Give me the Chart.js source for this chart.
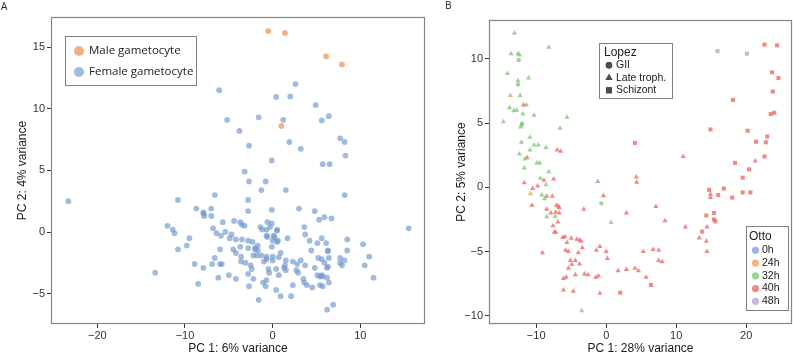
<!DOCTYPE html>
<html><head><meta charset="utf-8">
<script src="https://cdn.jsdelivr.net/npm/chart.js@4/dist/chart.umd.min.js"></script>
<style>
html,body{margin:0;padding:0;background:#fff;}
#wrap{position:relative;width:793px;height:355px;overflow:hidden;background:#fff;}
#a{position:absolute;left:0;top:0;}
#b{position:absolute;left:430px;top:0;}
</style></head><body>
<div id="wrap">
<canvas id="a" width="430" height="355"></canvas>
<canvas id="b" width="363" height="355"></canvas>
</div>
<script>
// ---------- Panel A data ----------
const legendA = ['Male gametocyte', 'Female gametocyte'];
const xTicksA = [-20, -10, 0, 10];
const yTicksA = [-5, 0, 5, 10, 15];
const malePts = [[-0.5,16.3],[1.4,16.15],[6.1,14.25],[7.9,13.6],[1.0,8.6]];
const femalePts = [
[-6.1,11.5],[2.6,12.0],[0.4,10.95],[2.0,11.0],[4.9,10.3],[-5.2,9.1],[-1.6,9.3],[1.2,9.1],[5.6,9.05],[6.4,9.4],
[-3.8,8.2],[-2.7,7.0],[1.9,7.3],[3.2,6.75],[7.7,7.6],[8.2,7.3],[8.3,6.2],[-0.1,5.8],[5.7,5.5],[6.5,5.5],
[-3.2,4.9],[-2.7,4.1],[-0.8,4.1],
[-23.3,2.5],[-10.8,2.6],[-6.6,3.0],[-1.3,3.4],[1.5,3.4],[8.2,3.0],[-2.8,2.6],[-8.7,1.9],[-7.0,1.9],[-7.9,1.6],
[-7.9,1.5],[-7.8,1.3],[-7.0,1.3],[-2.8,1.7],[-0.1,1.8],[3.0,1.9],[4.8,1.7],[5.9,1.2],[5.3,1.0],[6.7,1.1],
[-12.0,0.5],[-11.4,0.2],[-11.2,-0.1],[-9.5,-0.5],[-9.8,-1.1],[-10.8,-1.4],[-5.7,0.8],[-6.8,0.3],[-6.4,-0.1],
[-5.9,-0.3],[-5.4,0.0],[-4.7,-0.2],[-4.9,-0.5],[-4.4,0.9],[-3.7,0.8],[-3.5,0.6],[-3.2,0.5],[-4.2,-0.6],
[-3.5,-0.6],[-2.8,-0.7],[-2.3,-0.8],[-1.7,-1.1],[-2.0,-1.3],[-2.0,-1.4],[-1.7,-1.5],[-2.8,-1.3],[-3.7,-1.2],
[-4.5,-1.4],[-6.0,-1.4],[-1.4,0.4],[-1.2,0.2],[-0.7,0.2],[-0.6,0.8],[-0.1,0.7],[0.5,0.2],[0.5,0.1],[-0.7,-0.3],
[0.0,-0.7],[0.6,-0.7],[0.2,-0.4],[1.7,-0.5],[3.6,0.4],[3.7,-0.2],[4.2,-0.7],[5.1,-0.9],[5.6,-0.5],[6.1,-0.9],
[8.5,-0.6],[10.3,-1.0],[6.3,-1.5],[6.3,-1.55],[8.5,-1.5],[4.4,-1.5],[-0.1,-1.2],[0.9,-1.7],[15.5,0.3],
[-0.3,0.4],[-0.6,-0.4],[0.1,-0.3],[0.5,-0.8],[-4.2,-1.7],[-2.2,-1.9],[0.7,-2.05],[-0.7,-2.2],
[-0.7,-2.0],[0.0,-2.0],[0.0,-2.3],[-1.3,-1.9],[-1.8,-1.9],[-1.0,-2.4],[-3.6,-2.0],[-3.6,-2.4],[-3.1,-2.5],
[-6.6,-2.1],[-6.9,-2.6],[-6.0,-2.6],[-5.8,-2.6],[-8.9,-2.6],[-7.9,-2.9],[-5.0,-3.5],[-6.2,-3.7],[-4.2,-3.8],
[-8.5,-4.2],[-13.4,-3.3],[-2.5,-2.7],[-2.4,-3.0],[-2.8,-3.4],[-2.2,-3.8],[-2.7,-4.4],[-0.5,-3.0],[-0.4,-3.3],
[-0.7,-3.9],[-1.1,-4.1],[-0.8,-4.4],[0.4,-3.0],[0.7,-3.5],[1.5,-2.3],[1.4,-2.7],[1.3,-2.9],[1.5,-3.1],
[2.3,-2.4],[2.8,-2.6],[3.2,-2.3],[2.7,-3.1],[2.9,-3.3],[3.7,-2.7],[4.8,-2.9],[3.5,-3.8],[3.6,-4.1],[3.9,-4.3],
[4.5,-4.5],[5.1,-3.5],[5.4,-3.6],[5.6,-3.5],[5.7,-3.6],[5.2,-2.1],[5.6,-2.2],[5.9,-2.5],[6.3,-2.8],[6.2,-2.9],
[6.4,-2.1],[6.2,-3.7],[6.4,-4.1],[5.4,-4.3],[5.7,-4.4],[7.7,-2.1],[8.2,-2.3],[7.7,-2.5],[7.9,-2.7],[11.0,-2.0],
[10.5,-2.7],[11.5,-3.7],[2.3,-4.3],[0.9,-5.2],[0.4,-4.7],[2.1,-5.2],[-1.6,-5.5],[6.9,-5.9],[6.2,-6.3]
];

// ---------- Panel B data ----------
const lopezTitle = 'Lopez';
const lopezLabels = ['GII', 'Late troph.', 'Schizont'];
const ottoTitle = 'Otto';
const ottoLabels = ['0h', '24h', '32h', '40h', '48h'];
const xTicksB = [-10, 0, 10, 20];
const yTicksB = [-10, -5, 0, 5, 10];
const otto0h_late = [[-1.2,0.45]];
const otto24h_late = [[-13.7,7.15],[-10.8,-0.5]];
const otto32h_late = [
[-13.1,12.0],[-8.2,10.9],[-13.6,10.4],[-12.6,10.4],[-12.4,10.3],[-14.1,8.85],[-11.1,8.5],[-12.6,8.3],
[-12.3,7.15],[-11.4,6.4],[-13.8,6.2],[-13.2,5.95],[-12.8,6.0],[-11.9,5.7],[-10.3,5.6],[-5.6,5.45],[-6.6,4.6],
[-12.1,4.85],[-12.2,4.7],[-12.1,3.5],[-10.9,3.9],[-10.3,3.3],[-9.7,3.3],[-8.6,3.1],[-10.9,2.9],[-12.4,2.6],
[-11.6,2.2],[-9.9,1.9],[-9.5,1.9],[-11.7,1.5],[-8.2,1.2],[-9.4,0.7],[-8.6,0.2],[-9.2,-0.6],[-8.8,-0.9],
[-8.5,-2.3],[-7.3,-2.25]
];
const otto32h_gii = [[-12.5,9.9],[-12.6,8.0],[-12.0,4.95],[-0.7,-1.25]];
const otto40h_late = [
[-11.8,6.4],[-7.0,2.9],[-6.5,2.8],[-11.3,2.3],[-8.9,0.55],[-11.7,0.35],[-7.5,0.65],[-9.8,0.1],[-10.5,-0.1],
[4.3,0.8],[4.35,0.4],[-8.5,-0.7],[-7.7,-0.7],[-10.6,-1.4],[-0.4,-0.65],[-7.1,-1.4],[-6.8,-1.5],[-6.7,-1.6],
[-8.5,-1.7],[-7.9,-2.0],[-7.2,-1.95],[-6.7,-2.0],[-3.2,-1.7],[-6.9,-2.7],[2.9,-2.0],[-7.6,-3.0],[-7.4,-3.5],
[-7.2,-3.5],[-6.2,-3.9],[-5.9,-3.85],[-5.0,-3.97],[-4.2,-4.05],[-3.8,-4.1],[-3.6,-4.2],[-5.6,-4.3],[-3.4,-4.7],
[-5.8,-4.9],[-5.4,-5.0],[-4.0,-5.1],[-1.4,-4.9],[-0.9,-4.6],[0.0,-5.0],[0.16,-5.55],[-9.1,-5.1],[-5.1,-5.7],
[-4.4,-5.7],[-4.9,-6.0],[-3.8,-5.97],[-5.4,-6.3],[-3.1,-6.75],[-2.6,-6.8],[-4.4,-6.8],[-1.5,-7.0],[-1.1,-6.9],
[-5.7,-7.0],[-6.1,-7.1],[1.7,-6.5],[2.9,-6.4],[4.1,-6.3],[4.6,-6.5],[-6.1,-8.0],[-4.7,-8.1],[-0.9,-8.25],
[5.3,-5.0],[7.1,-1.5],[8.4,-2.6],[11.3,-3.1],[6.7,-4.85],[7.5,-4.9],[7.5,-5.7],[8.0,-5.8],[5.7,-7.0],
[14.9,-0.55],[14.9,-0.8],[14.4,-3.1],[13.3,-3.95],[14.3,-4.2],[14.4,-5.0],[11.0,2.4],[21.3,2.05]
];
const otto40h_schizont = [
[2.0,-8.2],[6.4,-7.6],[14.7,-0.2],[16.0,-0.6],[16.8,-0.1],[18.0,-0.8],[19.5,-0.4],[20.6,-0.4],[14.3,-2.2],
[15.4,-2.0],[15.4,-2.5],[15.6,-2.65],[13.7,-3.45],[22.6,11.1],[24.4,11.05],[23.7,8.95],[24.6,8.5],[23.8,7.45],
[18.1,6.8],[23.5,5.7],[24.0,5.8],[14.9,4.5],[20.2,4.4],[21.4,3.55],[22.8,3.5],[23.0,3.95],[4.1,3.45],[22.6,2.4],
[18.4,1.9],[20.4,1.4],[19.5,0.75]
];
const otto48h_late = [[-14.7,5.1],[0.7,-2.75],[-3.5,-9.6]];
const otto48h_schizont = [[15.9,10.6],[20.1,10.4]];

// ---------- styles ----------
const FONT = '"Liberation Sans", Arial, sans-serif';
const FONT_A_LEG = '"Open Sans", sans-serif';
const TXT = '#1a1a1a';
const cFemale = 'rgba(110,150,205,0.65)';
const cMale = 'rgba(240,150,90,0.75)';
const ottoColors = ['rgba(130,165,215,0.8)','rgba(245,160,100,0.8)','rgba(130,200,120,0.8)','rgba(235,110,105,0.8)','rgba(185,165,210,0.8)'];
const toXY = arr => arr.map(([x, y]) => ({x, y}));
const minusFmt = v => (v < 0 ? '\u2212' + Math.abs(v) : String(v));

const frame = {
  id: 'frame',
  afterDatasetsDraw(chart) {
    const {ctx, chartArea: a} = chart;
    ctx.save();
    ctx.strokeStyle = '#858585';
    ctx.lineWidth = 1.2;
    ctx.strokeRect(a.left + 0.5, a.top + 0.5, a.right - a.left - 1, a.bottom - a.top - 1);
    ctx.restore();
  }
};

function axisCfg(ticks, min, max, isX, title, titlePad, fixed) {
  return {
    type: 'linear', min, max,
    afterFit: s => { if (isX) s.height = fixed; else s.width = fixed; },
    afterBuildTicks: s => { s.ticks = ticks.map(v => ({value: v})); },
    grid: {drawOnChartArea: false, drawTicks: true, tickLength: 4, color: '#333', lineWidth: 1},
    border: {display: false},
    ticks: {font: {family: FONT, size: 11}, color: '#333', padding: isX ? 1 : 2, maxRotation: 0, autoSkip: false,
            callback: v => minusFmt(v)},
    title: {display: true, text: title, font: {family: FONT, size: 12, lineHeight: 1}, color: TXT,
            padding: isX ? {top: 0, bottom: titlePad} : {top: titlePad, bottom: 0}}
  };
}

// ---------- Chart A ----------
const legendPluginA = {
  id: 'legA',
  afterDraw(chart) {
    const ctx = chart.ctx;
    ctx.save();
    ctx.fillStyle = TXT;
    ctx.font = '10px ' + FONT_A_LEG;
    ctx.textBaseline = 'middle';
    ctx.fillText('A', 1, 7);
    ctx.fillStyle = '#fff';
    ctx.fillRect(65, 36, 131, 49);
    ctx.strokeStyle = '#808080'; ctx.lineWidth = 1;
    ctx.strokeRect(65.5, 36.5, 131, 49);
    const cols = [cMale, cFemale];
    legendA.forEach((lab, i) => {
      const y = 51 + i * 21;
      ctx.beginPath(); ctx.arc(79, y, 5, 0, Math.PI * 2);
      ctx.fillStyle = cols[i]; ctx.fill();
      ctx.fillStyle = TXT; ctx.font = '11.5px ' + FONT_A_LEG;
      ctx.fillText(lab, 89, y);
    });
    ctx.restore();
  }
};

new Chart(document.getElementById('a'), {
  type: 'scatter',
  data: {datasets: [
    {label: legendA[1], data: toXY(femalePts), backgroundColor: cFemale, borderWidth: 0, pointRadius: 2.9},
    {label: legendA[0], data: toXY(malePts), backgroundColor: cMale, borderWidth: 0, pointRadius: 2.9}
  ]},
  options: {
    responsive: false, animation: false, events: [],
    layout: {padding: {left: 0, top: 17, right: 5, bottom: 0}, autoPadding: false},
    plugins: {legend: {display: false}, tooltip: {enabled: false}},
    scales: {
      x: axisCfg(xTicksA, -25.28, 17.37, true, 'PC 1: 6% variance', 0, 31),
      y: axisCfg(yTicksA, -7.46, 17.44, false, 'PC 2: 4% variance', 17, 51)
    }
  },
  plugins: [frame, legendPluginA]
});

// ---------- Chart B ----------
const OX = 430;
const legendPluginB = {
  id: 'legB',
  afterDraw(chart) {
    const ctx = chart.ctx;
    ctx.save();
    ctx.textBaseline = 'middle';
    ctx.fillStyle = TXT;
    ctx.font = '10px ' + FONT_A_LEG;
    ctx.fillText('B', 445 - OX, 6);
    // Lopez legend
    ctx.fillStyle = '#fff'; ctx.fillRect(599 - OX, 43, 73, 55);
    ctx.strokeStyle = '#808080'; ctx.lineWidth = 1; ctx.strokeRect(599.5 - OX, 43.5, 73, 55);
    ctx.fillStyle = TXT; ctx.font = '12px ' + FONT;
    ctx.fillText(lopezTitle, 604 - OX, 52.5);
    const ly = [65.3, 78, 90.3];
    const styles = ['circle', 'triangle', 'rect'];
    lopezLabels.forEach((lab, i) => {
      Chart.helpers.drawPoint(ctx, {pointStyle: styles[i], radius: styles[i] === 'circle' ? 3.2 : (styles[i] === 'rect' ? 4.2 : 4), borderWidth: 0, rotation: 0},
        609 - OX, ly[i]);
      ctx.fillStyle = '#4d4d4d'; ctx.fill();
      ctx.fillStyle = TXT; ctx.font = '10.5px ' + FONT;
      ctx.fillText(lab, 616 - OX, ly[i]);
    });
    // Otto legend
    ctx.fillStyle = '#fff'; ctx.fillRect(746 - OX, 226, 42, 84);
    ctx.strokeStyle = '#808080'; ctx.strokeRect(746.5 - OX, 226.5, 42, 84);
    ctx.fillStyle = TXT; ctx.font = '12px ' + FONT;
    ctx.fillText(ottoTitle, 749 - OX, 237);
    ottoLabels.forEach((lab, i) => {
      const y = 250.3 + i * 12.75;
      ctx.beginPath(); ctx.arc(755.5 - OX, y, 3.6, 0, Math.PI * 2);
      ctx.fillStyle = ottoColors[i]; ctx.fill();
      ctx.fillStyle = TXT; ctx.font = '10.5px ' + FONT;
      ctx.fillText(lab, 762 - OX, y);
    });
    ctx.restore();
  }
};

const ds = (label, pts, col, style, r) => ({label, data: toXY(pts), backgroundColor: col, borderWidth: 0,
  pointStyle: style, pointRadius: r});

new Chart(document.getElementById('b'), {
  type: 'scatter',
  data: {datasets: [
    ds('0h Late troph.', otto0h_late, ottoColors[0], 'triangle', 3),
    ds('24h Late troph.', otto24h_late, ottoColors[1], 'triangle', 3),
    ds('32h Late troph.', otto32h_late, ottoColors[2], 'triangle', 3),
    ds('32h GII', otto32h_gii, ottoColors[2], 'circle', 2.2),
    ds('40h Late troph.', otto40h_late, ottoColors[3], 'triangle', 3),
    ds('40h Schizont', otto40h_schizont, ottoColors[3], 'rect', 2.9),
    ds('48h Late troph.', otto48h_late, ottoColors[4], 'triangle', 3),
    ds('48h Schizont', otto48h_schizont, ottoColors[4], 'rect', 2.9)
  ]},
  options: {
    responsive: false, animation: false, events: [],
    layout: {padding: {left: 0, top: 20, right: 1, bottom: 0}, autoPadding: false},
    plugins: {legend: {display: false}, tooltip: {enabled: false}},
    scales: {
      x: axisCfg(xTicksB, -16.74, 26.54, true, 'PC 1: 28% variance', 0, 31),
      y: axisCfg(yTicksB, -10.64, 13.02, false, 'PC 2: 5% variance', 26, 59)
    }
  },
  plugins: [frame, legendPluginB]
});
</script>
</body></html>
